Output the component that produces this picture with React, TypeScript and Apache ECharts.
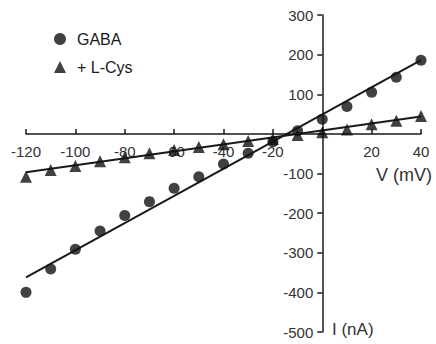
import React, { useEffect, useRef } from "react";
import * as echarts from "echarts";

const voltages = [-120, -110, -100, -90, -80, -70, -60, -50, -40, -30, -20, -10, 0, 10, 20, 30, 40];
const gabaCurrents = [-400, -341, -291, -245, -206, -171, -137, -108, -76, -49, -20, 8, 37, 69, 105, 143, 186];
const cysCurrents = [-108, -91, -81, -69, -59, -49, -41, -33, -26, -18, -13, -3, 4, 11, 24, 33, 45];
const gabaFit = [[-120, -362], [40, 186]];
const cysFit = [[-120, -97], [40, 44]];
const xTicks = { min: -120, max: 40, step: 20 };
const yTicks = { min: -500, max: 300, step: 100 };

const FONT = "Liberation Sans, Arial, sans-serif";
const INK = "#1a1a1a";

const W = 436;
const H = 344;
const G = { left: 26, right: 15, top: 15, bottom: 12 };

export default function App() {
  const ref = useRef<HTMLDivElement>(null);
  useEffect(() => {
    if (!ref.current) return;
    const chart = echarts.init(ref.current, null, { renderer: "svg" });
    const gw = W - G.left - G.right;
    const gh = H - G.top - G.bottom;
    // shift axes so they cross at the origin (lines, ticks and labels together)
    const zeroFromBottom = ((0 - yTicks.min) / (yTicks.max - yTicks.min)) * gh;
    const zeroFromLeft = ((0 - xTicks.min) / (xTicks.max - xTicks.min)) * gw;
    chart.setOption({
      animation: false,
      backgroundColor: "#fff",
      grid: { ...G, containLabel: false },
      legend: {
        orient: "vertical",
        left: 49,
        top: 26,
        itemGap: 12,
        itemWidth: 12,
        itemHeight: 12,
        data: ["GABA", "+ L-Cys"],
        textStyle: { fontFamily: FONT, fontSize: 16, color: INK, padding: [0, 0, 0, 6] },
      },
      xAxis: {
        type: "value",
        position: "bottom",
        offset: -zeroFromBottom,
        min: xTicks.min,
        max: xTicks.max,
        interval: xTicks.step,
        axisLine: { onZero: false, lineStyle: { color: INK, width: 1.5 } },
        axisTick: { inside: true, length: 5, lineStyle: { color: INK, width: 1.5 } },
        axisLabel: {
          margin: 10,
          fontFamily: FONT,
          fontSize: 15,
          color: "#333",
          formatter: (v: number) => (v === 0 ? "" : String(v)),
        },
        splitLine: { show: false },
      },
      yAxis: {
        type: "value",
        position: "left",
        offset: -zeroFromLeft,
        min: yTicks.min,
        max: yTicks.max,
        interval: yTicks.step,
        axisLine: { onZero: false, lineStyle: { color: INK, width: 1.5 } },
        axisTick: { length: 5, lineStyle: { color: INK, width: 1.5 } },
        axisLabel: {
          margin: 9,
          fontFamily: FONT,
          fontSize: 15,
          color: "#333",
          formatter: (v: number) => (v === 0 ? "" : String(v)),
        },
        splitLine: { show: false },
      },
      graphic: [
        {
          type: "text",
          right: 4,
          top: 166,
          style: { text: "V (mV)", fontFamily: FONT, fontSize: 18, fill: "#333" },
        },
        {
          type: "text",
          left: 332,
          top: 321,
          style: { text: "I (nA)", fontFamily: FONT, fontSize: 17, fill: "#333" },
        },
      ],
      series: [
        {
          name: "GABA fit",
          type: "line",
          data: gabaFit,
          symbol: "none",
          lineStyle: { color: INK, width: 2 },
          z: 2,
        },
        {
          name: "L-Cys fit",
          type: "line",
          data: cysFit,
          symbol: "none",
          lineStyle: { color: INK, width: 2 },
          z: 2,
        },
        {
          name: "GABA",
          type: "scatter",
          symbol: "circle",
          symbolSize: 11,
          itemStyle: { color: "#111" },
          data: voltages.map((v, i) => [v, gabaCurrents[i]]),
          z: 3,
        },
        {
          name: "+ L-Cys",
          type: "scatter",
          symbol: "triangle",
          symbolSize: 12,
          itemStyle: { color: "#111" },
          data: voltages.map((v, i) => [v, cysCurrents[i]]),
          z: 3,
        },
      ],
    });
    return () => chart.dispose();
  }, []);
  return (
    <div
      ref={ref}
      style={{ position: "absolute", left: 0, top: 0, width: W, height: H }}
    />
  );
}
